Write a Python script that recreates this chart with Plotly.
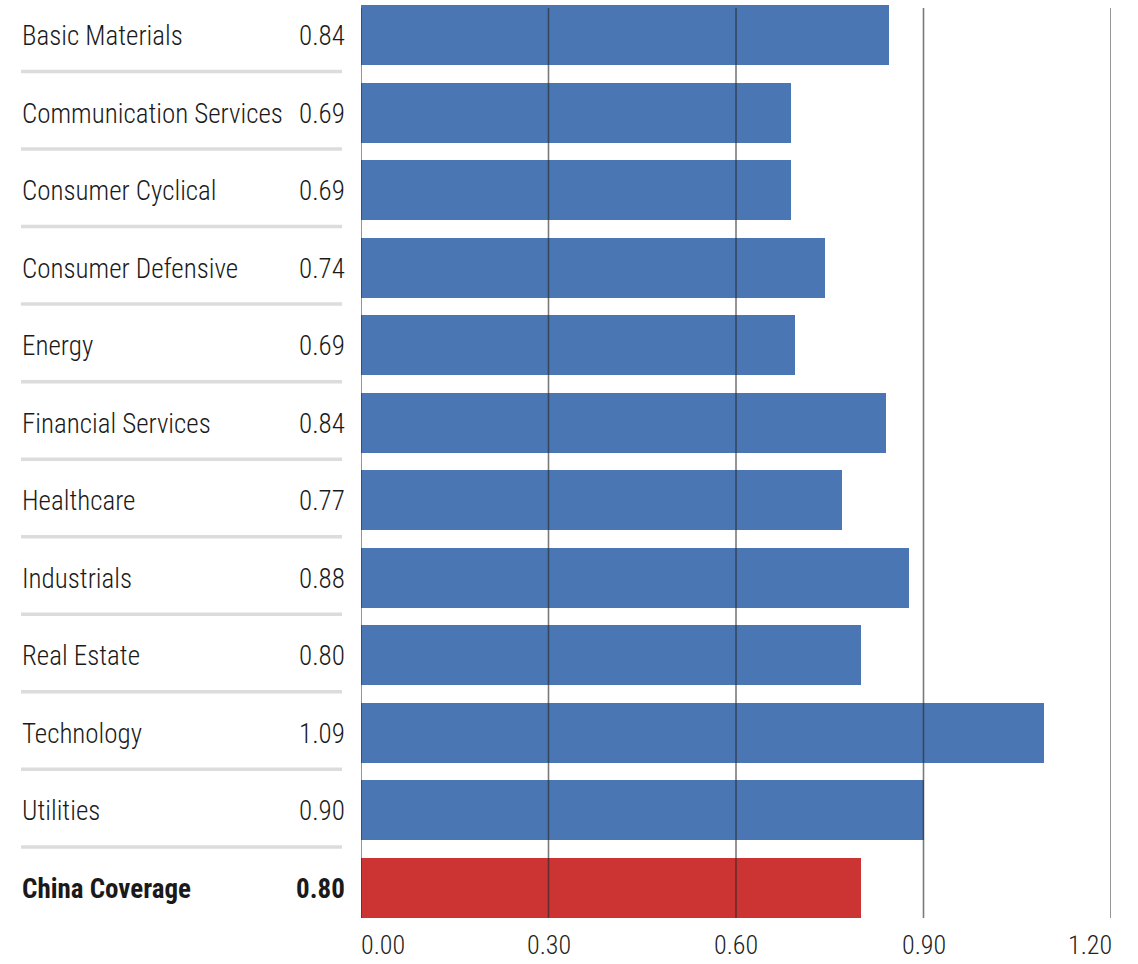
import plotly.graph_objects as go

categories = ["Basic Materials", "Communication Services", "Consumer Cyclical",
              "Consumer Defensive", "Energy", "Financial Services", "Healthcare",
              "Industrials", "Real Estate", "Technology", "Utilities", "China Coverage"]
values = [0.845, 0.688, 0.688, 0.742, 0.694, 0.84, 0.77, 0.877, 0.80, 1.093, 0.90, 0.80]
value_labels = ["0.84", "0.69", "0.69", "0.74", "0.69", "0.84", "0.77", "0.88", "0.80", "1.09", "0.90", "0.80"]
tick_vals = [0.0, 0.3, 0.6, 0.9, 1.2]
tick_text = ["0.00", "0.30", "0.60", "0.90", "1.20"]

BLUE = "#4A77B4"
RED = "#CC3333"
FONT = "Roboto Condensed, Liberation Sans Narrow, DejaVu Sans Condensed, sans-serif"

W, H = 1138, 964
ML, MR, MT, MB = 361, 27, 5, 46
plot_w = W - ML - MR

n = len(categories)
ypos = list(range(n))
colors = [BLUE] * (n - 1) + [RED]
bw = 0.774

fig = go.Figure()
fig.add_trace(go.Bar(
    x=values, y=ypos, orientation="h", width=bw,
    marker=dict(color=colors, line=dict(width=0)),
    hoverinfo="skip", showlegend=False,
))

def px_to_paper(px):
    return (px - ML) / plot_w

annotations = []
shapes = []
for i, (cat, lab) in enumerate(zip(categories, value_labels)):
    bold = i == n - 1
    fnt = dict(family=FONT, size=27, color="#1a1a1a", weight=700 if bold else 300)
    annotations.append(dict(x=px_to_paper(20), y=i, xref="paper", yref="y", text=cat,
                            showarrow=False, xanchor="left", yanchor="middle",
                            yshift=-1, font=fnt))
    annotations.append(dict(x=px_to_paper(347), y=i, xref="paper", yref="y", text=lab,
                            showarrow=False, xanchor="right", yanchor="middle",
                            yshift=-1, font=fnt))
    if i < n - 1:
        shapes.append(dict(type="line", xref="paper", yref="y",
                           x0=px_to_paper(21), x1=px_to_paper(342),
                           y0=i + 0.47, y1=i + 0.47,
                           line=dict(color="#dcdcdc", width=3.5), layer="above"))

# x tick labels: first left-aligned, last right-aligned, others centred
for j, (tv, tt) in enumerate(zip(tick_vals, tick_text)):
    if j == 0:
        anchor, xs = "left", -1
    elif j == len(tick_vals) - 1:
        anchor, xs = "right", 2
    else:
        anchor, xs = "center", 0
    annotations.append(dict(x=tv, y=0, xref="x", yref="paper", text=tt,
                            showarrow=False, xanchor=anchor, yanchor="top",
                            xshift=xs, yshift=-11, borderpad=0,
                            font=dict(family=FONT, size=26, color="#222222", weight=300)))

plot_h = H - MT - MB
for tv in tick_vals:
    shapes.append(dict(type="line", xref="x", yref="paper", x0=tv, x1=tv,
                       y0=0, y1=(918 - 8) / plot_h,
                       line=dict(color="rgba(40,40,40,0.62)", width=1.6), layer="above"))

fig.update_layout(
    width=W, height=H,
    margin=dict(l=ML, r=MR, t=MT, b=MB, pad=0),
    plot_bgcolor="white", paper_bgcolor="white",
    bargap=0,
    xaxis=dict(range=[0, 1.2], tickvals=tick_vals, showticklabels=False,
               showgrid=False, zeroline=False, showline=False, automargin=False,
               ticks="", fixedrange=True),
    yaxis=dict(range=[n - 1 + bw / 2, -bw / 2], showticklabels=False, automargin=False,
               showgrid=False, zeroline=False, showline=False, ticks="",
               fixedrange=True),
    annotations=annotations,
    shapes=shapes,
)

fig.write_html("out.html")
